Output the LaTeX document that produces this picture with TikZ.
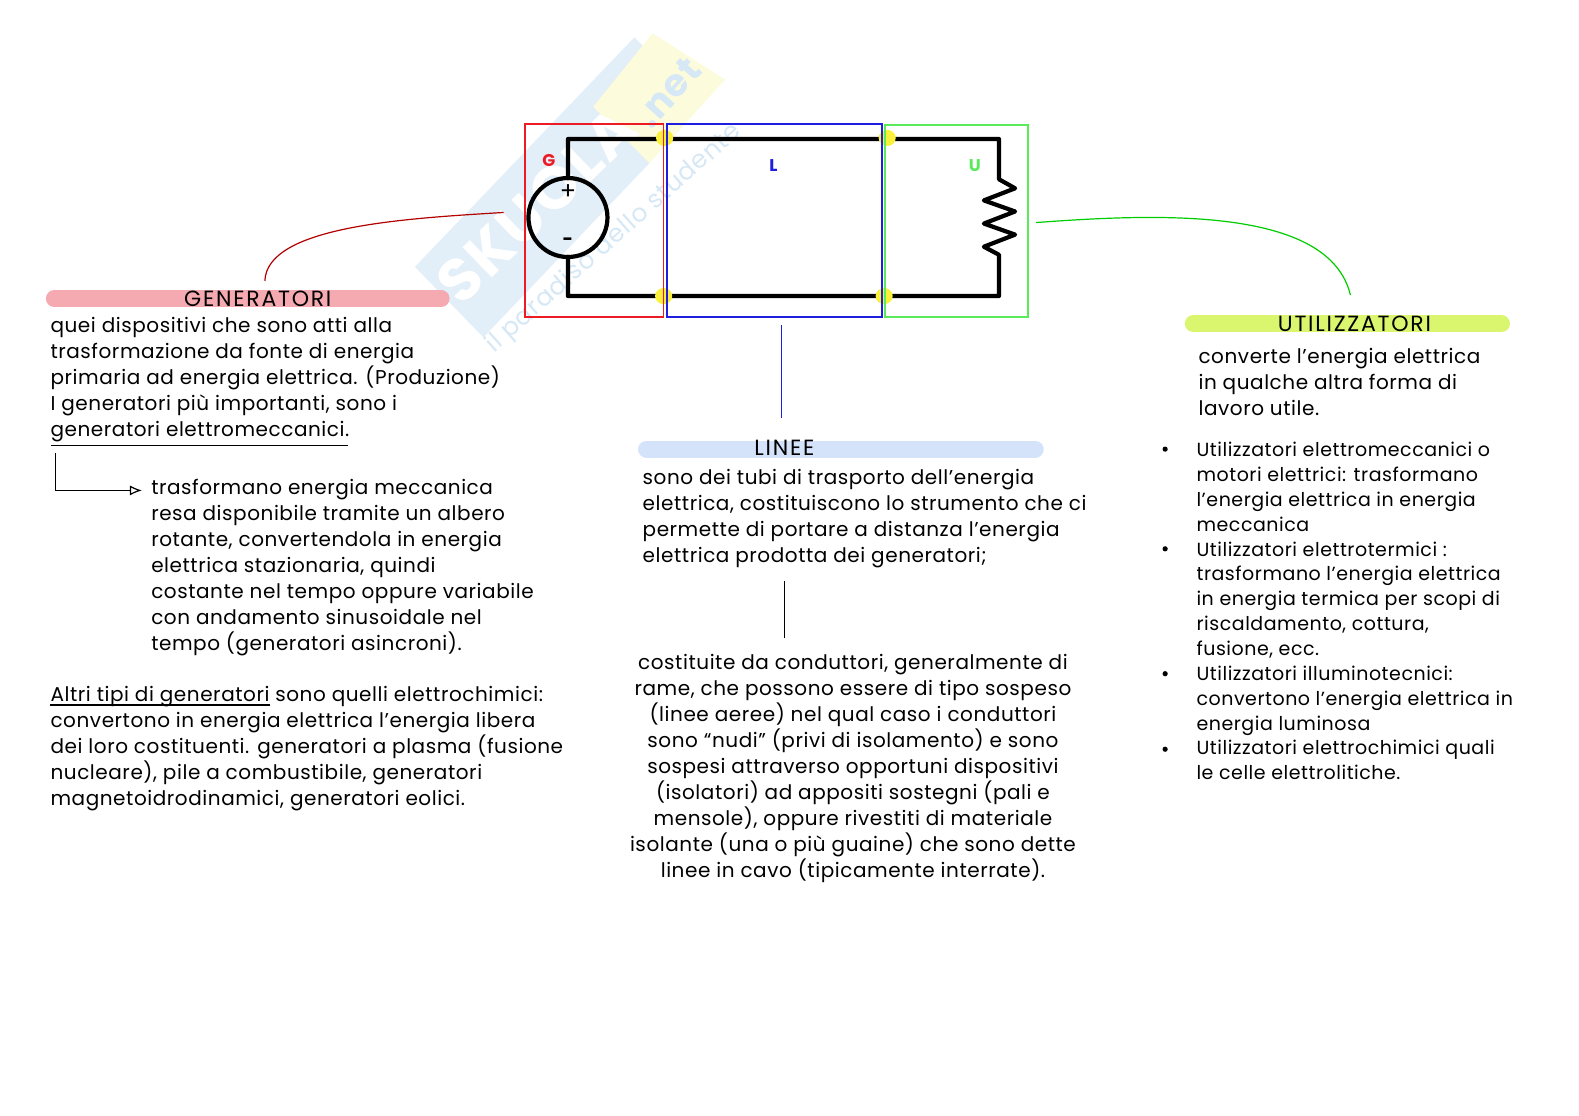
\documentclass[tikz,border=0pt]{standalone}
\usepackage{fontspec}
\setmainfont[LetterSpace=2.8]{Poppins}
\newfontfamily\titlefont[LetterSpace=8]{Poppins}
\usetikzlibrary{arrows.meta}
\definecolor{wmblue}{RGB}{226,238,248}
\definecolor{wmyellow}{RGB}{252,251,220}
\definecolor{wmtext}{RGB}{214,232,245}
\definecolor{gred}{RGB}{237,28,36}
\definecolor{lblue}{RGB}{30,30,225}
\definecolor{ugreen}{RGB}{90,235,90}
\definecolor{gpill}{RGB}{245,170,178}
\definecolor{upill}{RGB}{218,245,110}
\definecolor{lpill}{RGB}{213,227,250}
\definecolor{junction}{RGB}{250,240,60}
\begin{document}
\begin{tikzpicture}[x=1.007pt,y=-1.007pt,>=Stealth]
\tikzset{
  body/.style={inner sep=0pt,anchor=north west,align=left,font=\fontsize{20}{26}\selectfont},
  listbody/.style={inner sep=0pt,anchor=north west,align=left,font=\fontsize{19}{24.85}\selectfont},
  pill/.style={line width=17pt,line cap=round},
  title/.style={inner sep=0pt,font=\titlefont\fontsize{22}{24}\selectfont},
  wire/.style={line width=4.2pt,line cap=round,line join=round},
  boxframe/.style={line width=1.7pt},
  link/.style={line width=1.2pt},
  lettermark/.style={inner sep=0pt,font=\bfseries\fontsize{17}{17}\selectfont}
}
\useasboundingbox (0,0) rectangle (1568,1108);
% watermark
\fill[wmblue] (412,265) -- (630,37) -- (648,55) -- (590,106) -- (645,162) -- (480,335) -- cycle;
\fill[wmyellow] (648,33) -- (720,79) -- (645,162) -- (589,106) -- cycle;
\node[rotate=44,text=white,inner sep=0pt,font=\bfseries\fontsize{60}{60}\selectfont] (wmname) at (533,204) {SKUOLA};
\node[rotate=48,text=wmtext,inner sep=0pt,font=\bfseries\fontsize{38}{38}\selectfont] (wmnet) at (663,92) {.net};
\node[rotate=41.6,text=wmtext,inner sep=0pt,font=\fontsize{25}{25}\selectfont] (wmline) at (610,237) {il paradiso dello studente};
% frames
\draw[gred,boxframe] (521,123) rectangle (659,315);
\draw[lblue,boxframe] (662,123) rectangle (876,315);
\draw[ugreen,boxframe] (879,124) rectangle (1021,315);
% circuit
\draw[wire] (564,177) -- (564,138) -- (992,138) -- (992,178) -- (1008,187) -- (977,199) -- (1008,210) -- (977,222)
  -- (1008,233) -- (977,245) -- (992,253) -- (992,294) -- (564,294) -- (564,255);
\node[circle,draw,line width=4.2pt,minimum size=79pt,inner sep=0pt] (gen) at (564,216) {};
\foreach \x/\y in {660/137,881/137,659/294,878/294}
  \fill[junction] (\x,\y) ellipse (8.5 and 8);
\draw[gred,boxframe] (659,123) -- (659,315);
\draw[lblue,boxframe] (662,123) -- (662,315) (876,123) -- (876,315);
\draw[ugreen,boxframe] (879,124) -- (879,315);
\node[lettermark,text=gred] (glabel) at (545,159) {G};
\node[lettermark,text=lblue] (llabel) at (768,164) {L};
\node[lettermark,text=ugreen] (ulabel) at (968,164) {U};
\node[inner sep=0pt,font=\fontsize{24}{24}\selectfont] (plus) at (564,191) {+};
\node[inner sep=0pt,font=\bfseries\fontsize{18}{18}\selectfont] (minus) at (564,240) {-};
% titles
\draw[gpill,pill] (54,296.5) -- (438,296.5);
\draw[upill,pill] (1185,321.5) -- (1491,321.5);
\draw[lpill,pill] (642,446) -- (1028,446);
\node[title] (gtitle) at (256,297) {GENERATORI};
\node[title] (utitle) at (1345,322) {UTILIZZATORI};
\node[title] (ltitle) at (779,445) {LINEE};
% connectors
\coordinate (gstart) at (500,211);
\coordinate (ustart) at (1029,221);
\coordinate (lstart) at (776,323);
\coordinate (lend) at (776,415);
\draw[red!70!black,link] (gstart) .. controls (400,217) and (265,225) .. (263,279);
\draw[green!80!black,link] (ustart) .. controls (1150,212) and (1320,205) .. (1341,293);
\draw[lblue,link] (lstart) -- (lend);
\coordinate (ltop) at (779,577);
\coordinate (lbottom) at (779,634);
\draw[link] (ltop) -- (lbottom);
\coordinate (etop) at (55,450);
\coordinate (ebend) at (55,487);
\coordinate (eend) at (141,487);
\draw[link,-{Latex[open,length=12pt,width=10pt]}] (etop) -- (ebend) -- (eend);
% text
\node[body] (gtext) at (50,315) {quei dispositivi che sono atti alla\\trasformazione da fonte di energia\\primaria ad energia elettrica. (Produzione)\\I generatori più importanti, sono i\\generatori elettromeccanici.};
\node[body] (gsub) at (150,476) {trasformano energia meccanica\\resa disponibile tramite un albero\\rotante, convertendola in energia\\elettrica stazionaria, quindi\\costante nel tempo oppure variabile\\con andamento sinusoidale nel\\tempo (generatori asincroni).};
\node[body] (gother) at (50,681) {Altri tipi di generatori sono quelli elettrochimici:\\convertono in energia elettrica l’energia libera\\dei loro costituenti. generatori a plasma (fusione\\nucleare), pile a combustibile, generatori\\magnetoidrodinamici, generatori eolici.};
\draw[link] (51,442) -- (346,442);
\draw[link] (50,700) -- (268,700);
\node[body] (ltext) at (638,466) {sono dei tubi di trasporto dell’energia\\elettrica, costituiscono lo strumento che ci\\permette di portare a distanza l’energia\\elettrica prodotta dei generatori;};
\node[body,anchor=north,align=center] (lsub) at (847,650) {costituite da conduttori, generalmente di\\rame, che possono essere di tipo sospeso\\(linee aeree) nel qual caso i conduttori\\sono “nudi” (privi di isolamento) e sono\\sospesi attraverso opportuni dispositivi\\(isolatori) ad appositi sostegni (pali e\\mensole), oppure rivestiti di materiale\\isolante (una o più guaine) che sono dette\\linee in cavo (tipicamente interrate).};
\node[body] (utext) at (1190,346) {converte l\char39 energia elettrica\\in qualche altra forma di\\lavoro utile.};
\node[listbody] (ulist) at (1188,439) {Utilizzatori elettromeccanici o\\motori elettrici: trasformano\\l’energia elettrica in energia\\meccanica\\Utilizzatori elettrotermici :\\trasformano l’energia elettrica\\in energia termica per scopi di\\riscaldamento, cottura,\\fusione, ecc.\\Utilizzatori illuminotecnici:\\convertono l’energia elettrica in\\energia luminosa\\Utilizzatori elettrochimici quali\\le celle elettrolitiche.};
\foreach \y in {446,545,669,744}
  \fill (1157,\y) circle (2.6);
\end{tikzpicture}
\end{document}
